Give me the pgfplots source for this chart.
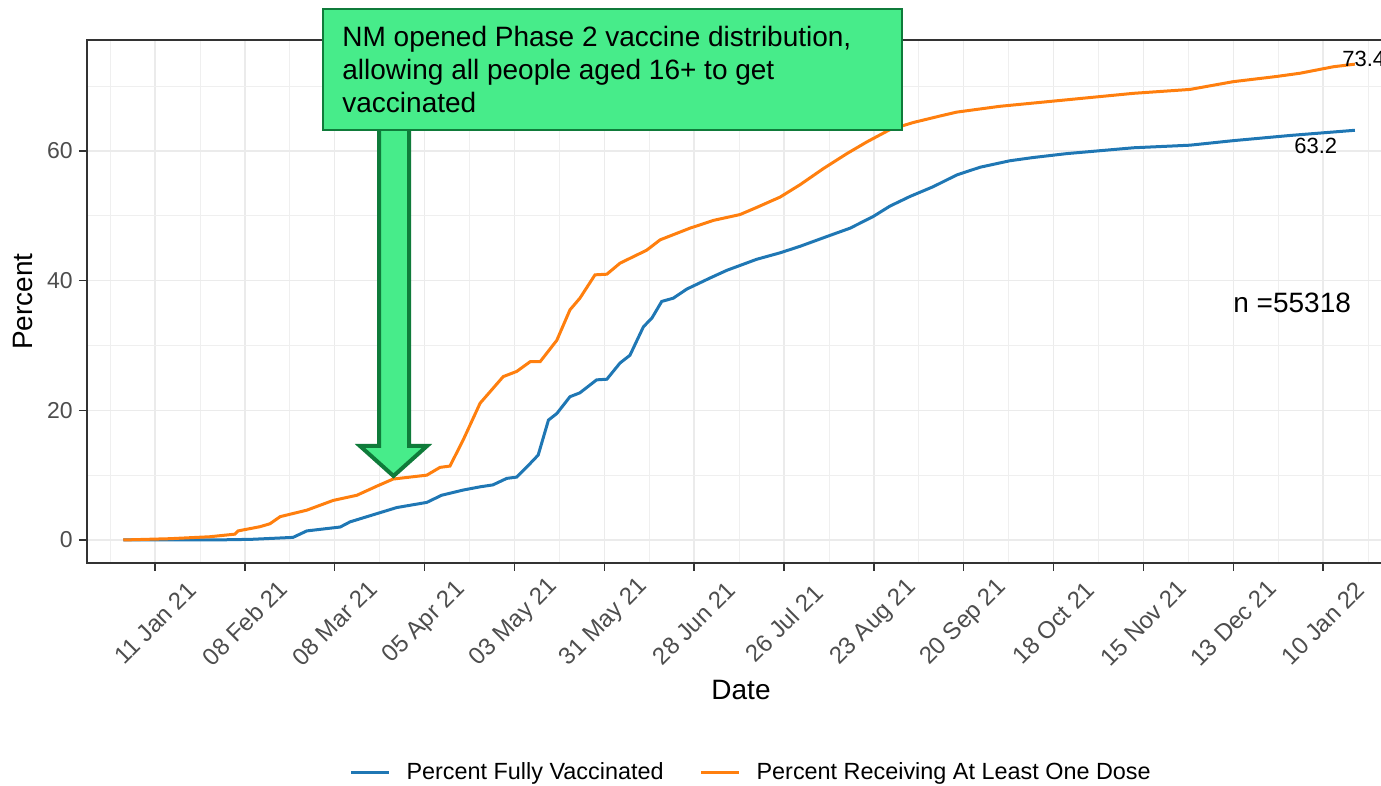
\documentclass[border=0pt]{standalone}
\usepackage{fontspec}
\setmainfont{Liberation Sans}
\usepackage{pgfplots}
\pgfplotsset{compat=1.18}
\definecolor{cblue}{HTML}{1F77B4}
\definecolor{corange}{HTML}{FF7F0E}
\definecolor{gridc}{HTML}{EBEBEB}
\definecolor{txtgray}{HTML}{4D4D4D}
\definecolor{bordc}{HTML}{333333}
\definecolor{boxfill}{HTML}{47EC8A}
\definecolor{boxdraw}{HTML}{0F7B3A}

\pgfplotstableread{
day val
-9.9 0
18.1 0
30 0.1
43.0 0.4
47.3 1.4
57.7 2.0
60.8 2.8
75.3 5.0
84.7 5.8
89.3 6.9
96.0 7.7
101.3 8.2
105.3 8.5
109.6 9.5
112.7 9.7
116.9 11.8
119.4 13.1
122.6 18.5
125.2 19.5
129.3 22.1
132.4 22.7
137.6 24.7
140.8 24.8
144.9 27.3
148.0 28.5
152.2 32.9
154.8 34.2
157.9 36.8
161.5 37.3
165.7 38.7
172.9 40.4
178.2 41.6
187.5 43.3
194.8 44.3
201.0 45.3
209.3 46.8
216.6 48.1
223.8 49.9
229.0 51.5
235.3 53.0
242.5 54.5
249.8 56.3
257.1 57.5
266.4 58.5
273.7 59.0
284.1 59.6
304.9 60.5
322.5 60.9
336.0 61.6
353.7 62.4
373.9 63.2
}\fully

\pgfplotstableread{
day val
-9.9 0
4.7 0.2
17.1 0.5
24.9 0.9
25.9 1.4
32.7 2.05
35.8 2.5
39.0 3.6
47.3 4.6
55.5 6.1
62.9 6.9
69.1 8.3
74.2 9.4
84.7 10.0
88.8 11.2
91.9 11.4
96.0 15.4
101.3 21.1
108.5 25.2
112.7 26.0
116.9 27.5
120.0 27.5
125.2 30.8
129.3 35.5
132.4 37.3
137.1 40.9
140.8 41.0
144.9 42.7
153.2 44.7
157.4 46.3
166.7 48.1
174.0 49.3
182.3 50.2
187.5 51.3
194.8 52.9
201.0 54.8
208.3 57.3
215.6 59.6
221.8 61.4
229.0 63.3
236.3 64.4
244.6 65.4
249.8 66.0
263.3 66.9
284.1 67.9
304.9 68.9
322.5 69.5
336.0 70.7
349.5 71.5
356.8 72.0
367.2 73.0
373.9 73.4
}\onedose

\begin{document}
\begin{tikzpicture}
\begin{axis}[
  at={(43.5pt,111.5pt)}, anchor=south west,
  scale only axis, width=654pt, height=261.5pt,
  xmin=-21.2, xmax=386.4, ymin=-3.55, ymax=77.13,
  xtick={0,28,...,364},
  xticklabels={11 Jan 21,08 Feb 21,08 Mar 21,05 Apr 21,03 May 21,31 May 21,28 Jun 21,26 Jul 21,23 Aug 21,20 Sep 21,18 Oct 21,15 Nov 21,13 Dec 21,10 Jan 22},
  minor xtick={-14,14,42,...,378},
  ytick={0,20,40,60}, minor ytick={10,30,50,70},
  grid=both,
  major grid style={gridc, line width=0.75pt},
  minor grid style={gridc!80!white, line width=0.4pt},
  tick align=outside, tick pos=left,
  major tick length=4pt, minor tick length=0pt,
  tick style={bordc, line width=0.7pt},
  axis line style={bordc, line width=0.7pt},
  /pgf/number format/assume math mode=true,
  ticklabel style={font=\fontsize{11.5}{13}\selectfont, text=txtgray},
  xticklabel style={font=\fontsize{12}{13}\selectfont, rotate=45, anchor=center, inner sep=0pt},
  xticklabel shift=26pt,
  yticklabel style={inner sep=3pt},
  xlabel={Date}, ylabel={Percent},
  xlabel style={at={(axis description cs:0.5,-0.2428)}, anchor=center, font=\fontsize{14}{16}\selectfont},
  ylabel style={at={(axis description cs:-0.0489,0.5)}, anchor=center, rotate=0, font=\fontsize{14}{16}\selectfont},
  legend style={at={(axis description cs:0.5085,-0.4015)}, anchor=center, draw=none, fill=none,
    font=\fontsize{11.7}{13}\selectfont, legend columns=2,
    /tikz/every odd column/.append style={column sep=6pt},
    /tikz/every even column/.append style={column sep=16pt}},
  legend image code/.code={\draw[#1] (0pt,0pt) -- (19pt,0pt);},
]
\addplot[cblue, line width=1.5pt] table[x=day, y=val] {\fully};
\addlegendentry{Percent Fully Vaccinated}
\addplot[corange, line width=1.5pt] table[x=day, y=val] {\onedose};
\addlegendentry{Percent Receiving At Least One Dose}
\end{axis}
\begin{scope}[x=0.5pt, y=-0.5pt, shift={(0pt,393pt)}]
  \draw[boxdraw, fill=boxfill, line width=2pt, miter limit=10] (379,125) -- (379,446) -- (360,446) -- (393.5,476) -- (427,446) -- (409,446) -- (409,125) -- cycle;
  \draw[boxdraw, fill=boxfill, line width=1pt] (323,9) rectangle (902,130);
  \begin{scope}[every node/.style={anchor=base west, inner sep=0pt, font=\fontsize{14}{16}\selectfont}]
    \node at (342,47) {NM opened Phase 2 vaccine distribution,};
    \node at (342,80) {allowing all people aged 16+ to get};
    \node at (342,113) {vaccinated};
    \node at (1233,313) {n =55318};
  \end{scope}
  \begin{scope}[every node/.style={anchor=base west, inner sep=0pt, font=\fontsize{11}{13}\selectfont}]
    \node at (1342,67) {73.4};
    \node at (1294,154) {63.2};
  \end{scope}
\end{scope}
\pgfresetboundingbox
\path (0pt,0pt) rectangle (690.5pt,393pt);
\end{tikzpicture}
\end{document}
